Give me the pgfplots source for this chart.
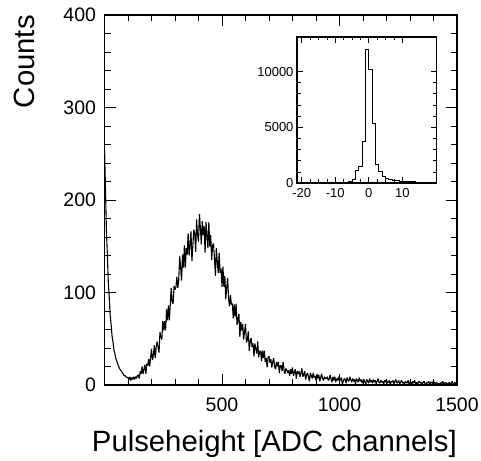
\documentclass[border=0pt]{standalone}
\usepackage{fontspec}
\setmainfont{Liberation Sans}
\usepackage{pgfplots}
\usepackage{pgfplotstable}
\pgfplotsset{compat=1.18}

% pulse height spectrum, channel : counts (every 4th channel)
\pgfplotstableread{
x y
0 258
4 214
8 168
12 142
16 112
20 95
24 76
28 66
32 53
36 47
40 38
44 34
48 29
52 26
56 23
60 20
64 18
68 16
72 15
76 13
80 12
84 10
88 10
92 9
96 8
100 8
104 6
108 9
112 5
116 8
120 6
124 9
128 6
132 9
136 7
140 10
144 11
148 7
152 15
156 12
160 20
164 12
168 17
172 22
176 12
180 23
184 21
188 28
192 20
196 29
200 39
204 27
208 32
212 43
216 29
220 41
224 47
228 41
232 35
236 57
240 52
244 49
248 69
252 59
256 69
260 59
264 82
268 70
272 86
276 70
280 88
284 105
288 89
292 88
296 107
300 103
304 106
308 117
312 105
316 114
320 139
324 127
328 113
332 141
336 127
340 151
344 127
348 148
352 141
356 164
360 140
364 152
368 166
372 134
376 151
380 168
384 163
388 144
392 179
396 162
400 155
404 185
408 170
412 152
416 177
420 162
424 172
428 143
432 176
436 162
440 148
444 176
448 150
452 162
456 135
460 151
464 153
468 136
472 118
476 148
480 133
484 121
488 143
492 121
496 126
500 106
504 128
508 106
512 118
516 93
520 105
524 116
528 93
532 85
536 97
540 87
544 88
548 72
552 87
556 74
560 88
564 65
568 71
572 77
576 52
580 68
584 59
588 66
592 49
596 58
600 66
604 46
608 49
612 58
616 37
620 47
624 51
628 41
632 45
636 31
640 45
644 39
648 34
652 47
656 30
660 36
664 37
668 26
672 37
676 29
680 37
684 25
688 29
692 19
696 30
700 31
704 24
708 28
712 19
716 25
720 29
724 20
728 17
732 25
736 20
740 25
744 13
748 21
752 21
756 15
760 25
764 16
768 12
772 18
776 16
780 13
784 16
788 10
792 17
796 12
800 19
804 10
808 14
812 17
816 7
820 15
824 12
828 15
832 9
836 13
840 18
844 9
848 11
852 15
856 6
860 11
864 13
868 9
872 4
876 13
880 10
884 7
888 13
892 8
896 10
900 5
904 12
908 7
912 11
916 4
920 8
924 12
928 7
932 5
936 9
940 7
944 7
948 9
952 5
956 6
960 11
964 7
968 3
972 9
976 5
980 9
984 3
988 7
992 5
996 9
1000 4
1004 6
1008 8
1012 1
1016 4
1020 7
1024 6
1028 2
1032 8
1036 5
1040 4
1044 9
1048 6
1052 3
1056 7
1060 4
1064 6
1068 1
1072 7
1076 5
1080 3
1084 8
1088 4
1092 6
1096 2
1100 5
1104 6
1108 3
1112 1
1116 6
1120 4
1124 2
1128 7
1132 3
1136 5
1140 2
1144 6
1148 3
1152 5
1156 1
1160 4
1164 7
1168 3
1172 2
1176 5
1180 3
1184 4
1188 1
1192 5
1196 3
1200 6
1204 2
1208 3
1212 5
1216 0
1220 4
1224 3
1228 5
1232 1
1236 4
1240 6
1244 2
1248 3
1252 5
1256 1
1260 3
1264 5
1268 2
1272 3
1276 0
1280 4
1284 3
1288 2
1292 5
1296 1
1300 3
1304 3
1308 1
1312 4
1316 2
1320 5
1324 1
1328 3
1332 0
1336 3
1340 4
1344 2
1348 3
1352 1
1356 3
1360 4
1364 1
1368 1
1372 3
1376 2
1380 4
1384 0
1388 3
1392 3
1396 1
1400 5
1404 2
1408 1
1412 3
1416 2
1420 1
1424 2
1428 0
1432 3
1436 1
1440 4
1444 1
1448 2
1452 3
1456 0
1460 2
1464 1
1468 3
1472 0
1476 2
1480 4
1484 1
1488 1
1492 3
1496 0
1500 2
}\spectrum

% inset: residual distribution, bin left edge : counts
\pgfplotstableread{
x y
-21 0
-7 20
-6 100
-5 330
-4 1100
-3 1525
-2 3710
-1 11940
0 10200
1 5360
2 1680
3 1080
4 630
5 420
6 300
7 230
8 190
9 170
10 150
11 130
12 110
13 100
14 90
15 80
16 70
17 60
18 60
19 50
20 50
}\inset

\begin{document}
\begin{tikzpicture}
\begin{axis}[
  name=main,
  at={(0pt,0pt)}, anchor=south west,
  scale only axis,
  width=352.5pt, height=370pt,
  xmin=0, xmax=1500,
  ymin=0, ymax=400,
  xtick={500,1000,1500},
  minor xtick={100,200,300,400,600,700,800,900,1100,1200,1300,1400},
  ytick={0,100,200,300,400},
  minor y tick num=4,
  major tick length=11pt,
  minor tick length=6pt,
  axis line style={line width=1.6pt},
  every tick/.style={black, line width=0.9pt},
  /pgf/number format/assume math mode=true,
  /pgf/number format/1000 sep={},
  tick label style={font=\fontsize{19.5}{20}\selectfont},
  xticklabel style={yshift=-9pt},
  yticklabel style={xshift=-5pt},
  xlabel={Pulseheight [ADC channels]},
  ylabel={Counts},
  label style={font=\fontsize{29.3}{30}\selectfont},
  xlabel style={at={(axis description cs:1,-0.1803)}, anchor=base east, inner sep=0pt},
  ylabel style={at={(axis description cs:-0.1986,1)}, anchor=base east, inner sep=0pt},
]
\addplot[black, line width=1.1pt, line join=bevel] table[x=x, y=y] {\spectrum};
\end{axis}

\begin{axis}[
  at={(192.5pt,202pt)}, anchor=south west,
  scale only axis,
  width=139.5pt, height=146pt,
  xmin=-21.4, xmax=20.2,
  ymin=0, ymax=13100,
  xtick={-20,-10,0,10},
  minor x tick num=3,
  ytick={0,5000,10000},
  minor y tick num=4,
  major tick length=6pt,
  minor tick length=3.5pt,
  axis line style={line width=1.5pt},
  every tick/.style={black, line width=0.7pt},
  axis background/.style={fill=white},
  /pgf/number format/assume math mode=true,
  /pgf/number format/1000 sep={},
  scaled y ticks=false,
  tick label style={font=\fontsize{13}{14}\selectfont},
  xticklabel style={yshift=-2pt},
]
\addplot[black, line width=0.9pt, const plot mark left] table[x=x, y=y] {\inset};
\end{axis}

\pgfresetboundingbox
\path (-104.5pt,-75pt) rectangle (376.5pt,385pt);
\end{tikzpicture}
\end{document}
